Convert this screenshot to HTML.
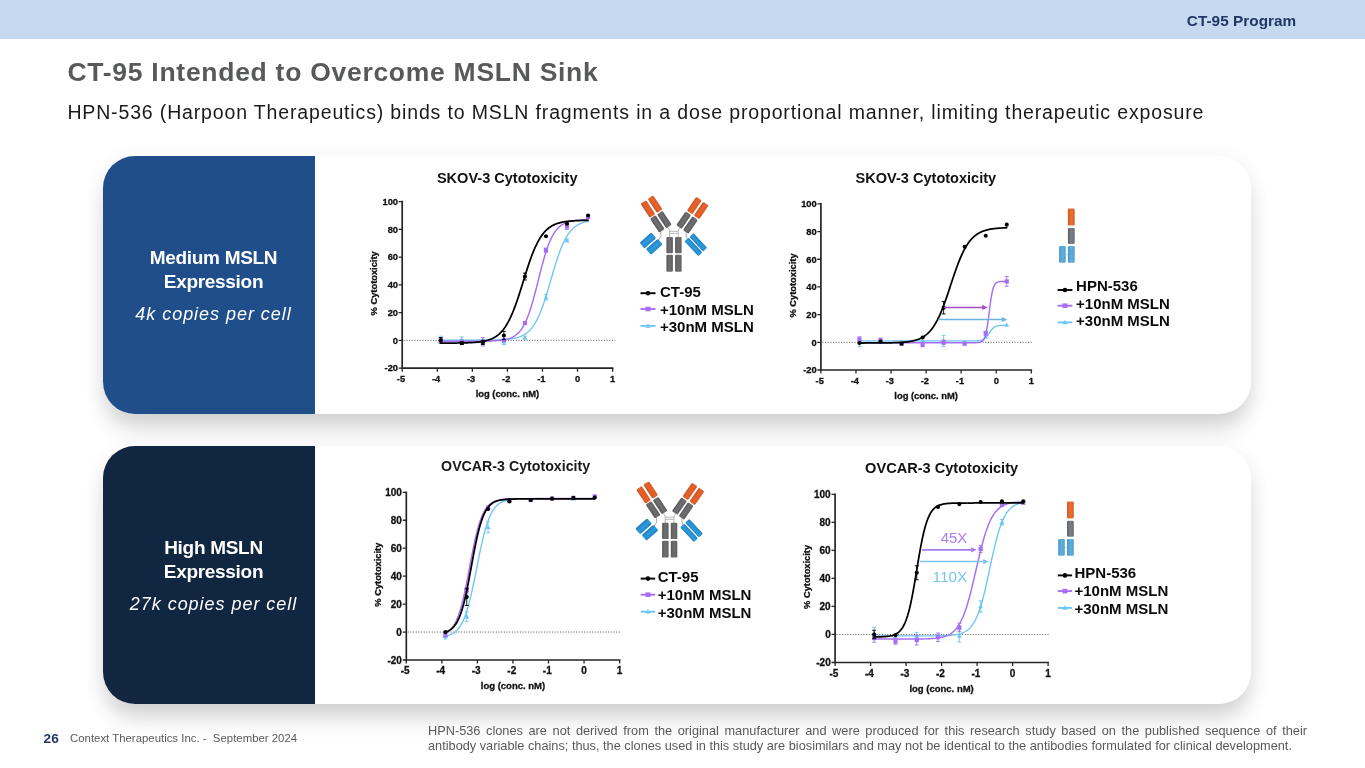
<!DOCTYPE html>
<html lang="en">
<head>
<meta charset="utf-8">
<title>CT-95 Intended to Overcome MSLN Sink</title>
<style>
html,body{margin:0;padding:0;}
body{width:1365px;height:768px;position:relative;overflow:hidden;background:#fff;font-family:"Liberation Sans",Arial,sans-serif;}
.t{position:absolute;white-space:nowrap;line-height:1;transform-origin:0 50%;display:block;}
.c{transform-origin:50% 50%;}
#topbar{position:absolute;left:0;top:0;width:1365px;height:38.6px;background:#c5d9f1;}
.card{position:absolute;left:103px;width:1148px;height:258px;border-radius:32px;background:#fff;box-shadow:0 17px 22px -3px rgba(0,0,0,0.16),0 2px 18px 6px rgba(0,0,0,0.03);overflow:hidden;}
.side{position:absolute;left:0;top:0;width:212px;height:258px;}
#card1{top:156px;} #card2{top:446px;}
#card1 .side{background:#204e8a;} #card2 .side{background:#112641;}
.pt{position:absolute;left:0;width:221px;text-align:center;color:#fff;white-space:nowrap;line-height:1;}
.pt span{display:inline-block;}
.b{font-weight:bold;font-size:19px;letter-spacing:-0.3px;}
.i{font-style:italic;font-size:18px;letter-spacing:0.96px;}
#foot{position:absolute;left:428px;top:722.6px;width:879px;font-size:12.75px;line-height:15.2px;color:#595959;text-align:justify;}
</style>
</head>
<body>
<div id="topbar"></div>
<div class="t" id="prog" style="left:1186.8px;top:13.4px;font-size:15.3px;font-weight:bold;color:#1f3864;letter-spacing:0.05px;">CT-95 Program</div>
<div class="t" id="title" style="left:67.5px;top:58.9px;font-size:26.5px;font-weight:bold;color:#58595b;letter-spacing:0.72px;">CT-95 Intended to Overcome MSLN Sink</div>
<div class="t" id="sub" style="left:67.4px;top:102.5px;font-size:19.5px;color:#1a1a1a;letter-spacing:0.85px;">HPN-536 (Harpoon Therapeutics) binds to MSLN fragments in a dose proportional manner, limiting therapeutic exposure</div>

<div class="card" id="card1">
  <div class="side">
    <div class="pt b" style="top:92.1px"><span id="p1a">Medium MSLN</span></div>
    <div class="pt b" style="top:116.1px"><span id="p1b">Expression</span></div>
    <div class="pt i" style="top:149.4px"><span id="p1c">4k copies per cell</span></div>
  </div>
</div>
<div class="card" id="card2">
  <div class="side">
    <div class="pt b" style="top:92.1px"><span id="p2a">High MSLN</span></div>
    <div class="pt b" style="top:116.1px"><span id="p2b">Expression</span></div>
    <div class="pt i" style="top:149.4px"><span id="p2c">27k copies per cell</span></div>
  </div>
</div>

<svg width="1365" height="768" viewBox="0 0 1365 768" style="position:absolute;left:0;top:0">
<style>.k{stroke:#111;stroke-width:0.3px;}</style><defs>
<linearGradient id="gOr" x1="0" x2="1" y1="0" y2="0"><stop offset="0" stop-color="#cf5422"/><stop offset="0.5" stop-color="#e8632b"/><stop offset="1" stop-color="#d65824"/></linearGradient>
<linearGradient id="gGr" x1="0" x2="1" y1="0" y2="0"><stop offset="0" stop-color="#59595c"/><stop offset="0.5" stop-color="#707073"/><stop offset="1" stop-color="#5e5e61"/></linearGradient>
<linearGradient id="gBl" x1="0" x2="0" y1="0" y2="1"><stop offset="0" stop-color="#1c7fc0"/><stop offset="0.5" stop-color="#2f9bdc"/><stop offset="1" stop-color="#1f86c8"/></linearGradient>
<linearGradient id="gOr2" x1="0" x2="1" y1="0" y2="0"><stop offset="0" stop-color="#d25a22"/><stop offset="0.5" stop-color="#ea7030"/><stop offset="1" stop-color="#d86026"/></linearGradient>
<linearGradient id="gGr2" x1="0" x2="1" y1="0" y2="0"><stop offset="0" stop-color="#5c646b"/><stop offset="0.5" stop-color="#7a8085"/><stop offset="1" stop-color="#666c72"/></linearGradient>
<linearGradient id="gBl2" x1="0" x2="1" y1="0" y2="0"><stop offset="0" stop-color="#4596cc"/><stop offset="0.5" stop-color="#62aede"/><stop offset="1" stop-color="#4e9fd2"/></linearGradient>
</defs>
<g font-family="'Liberation Sans', Arial, sans-serif" font-weight="bold" fill="#111">
<text x="436.9" y="182.8" font-size="14.45" textLength="140.6" lengthAdjust="spacingAndGlyphs" fill="#111">SKOV-3 Cytotoxicity</text>
<line x1="403.7" y1="340.35" x2="615.3" y2="340.35" stroke="#505050" stroke-width="1" stroke-dasharray="1 1.67"/>
<polyline points="440.77,340.07 441.69,340.07 442.61,340.07 443.53,340.07 444.46,340.07 445.38,340.07 446.3,340.07 447.22,340.07 448.14,340.07 449.06,340.07 449.98,340.07 450.9,340.07 451.82,340.07 452.74,340.07 453.66,340.07 454.58,340.07 455.5,340.07 456.42,340.07 457.34,340.07 458.26,340.07 459.18,340.07 460.1,340.07 461.02,340.07 461.94,340.07 462.87,340.07 463.79,340.07 464.71,340.07 465.63,340.07 466.55,340.07 467.47,340.06 468.39,340.06 469.31,340.06 470.23,340.06 471.15,340.06 472.07,340.06 472.99,340.06 473.91,340.06 474.83,340.05 475.75,340.05 476.67,340.05 477.59,340.05 478.51,340.04 479.43,340.04 480.35,340.04 481.28,340.03 482.2,340.03 483.12,340.02 484.04,340.02 484.96,340.01 485.88,340 486.8,340 487.72,339.99 488.64,339.98 489.56,339.97 490.48,339.96 491.4,339.94 492.32,339.93 493.24,339.91 494.16,339.89 495.08,339.88 496,339.85 496.92,339.83 497.84,339.8 498.76,339.77 499.69,339.74 500.61,339.7 501.53,339.66 502.45,339.61 503.37,339.56 504.29,339.51 505.21,339.44 506.13,339.37 507.05,339.3 507.97,339.21 508.89,339.11 509.81,339.01 510.73,338.89 511.65,338.76 512.57,338.62 513.49,338.45 514.41,338.28 515.33,338.08 516.25,337.86 517.17,337.62 518.1,337.35 519.02,337.06 519.94,336.73 520.86,336.37 521.78,335.97 522.7,335.53 523.62,335.04 524.54,334.51 525.46,333.92 526.38,333.27 527.3,332.56 528.22,331.78 529.14,330.92 530.06,329.99 530.98,328.97 531.9,327.85 532.82,326.64 533.74,325.33 534.66,323.9 535.58,322.36 536.51,320.7 537.43,318.92 538.35,317.01 539.27,314.98 540.19,312.81 541.11,310.52 542.03,308.09 542.95,305.55 543.87,302.89 544.79,300.11 545.71,297.24 546.63,294.28 547.55,291.24 548.47,288.14 549.39,285 550.31,281.83 551.23,278.64 552.15,275.46 553.07,272.31 553.99,269.2 554.92,266.15 555.84,263.17 556.76,260.27 557.68,257.47 558.6,254.78 559.52,252.21 560.44,249.76 561.36,247.43 562.28,245.24 563.2,243.17 564.12,241.23 565.04,239.42 565.96,237.73 566.88,236.17 567.8,234.71 568.72,233.37 569.64,232.14 570.56,231 571.48,229.96 572.4,229 573.33,228.13 574.25,227.33 575.17,226.6 576.09,225.94 577.01,225.34 577.93,224.79 578.85,224.29 579.77,223.84 580.69,223.43 581.61,223.06 582.53,222.73 583.45,222.43 584.37,222.15 585.29,221.9 586.21,221.68 587.13,221.48 588.05,221.3" fill="none" stroke="#6cc5f2" stroke-width="1.35" stroke-linejoin="round" stroke-linecap="round"/>
<path d="M440.77 336.19V341.74M438.77 336.19H442.77M438.77 341.74H442.77" stroke="#6cc5f2" stroke-width="0.9" fill="none"/>
<path d="M440.77 336.36L443.17 340.76L438.37 340.76Z" fill="#6cc5f2"/>
<path d="M461.81 336.88V342.43M459.81 336.88H463.81M459.81 342.43H463.81" stroke="#6cc5f2" stroke-width="0.9" fill="none"/>
<path d="M461.81 337.06L464.21 341.46L459.41 341.46Z" fill="#6cc5f2"/>
<path d="M482.85 337.75L485.25 342.15L480.45 342.15Z" fill="#6cc5f2"/>
<path d="M503.89 338.96V344.51M501.89 338.96H505.89M501.89 344.51H505.89" stroke="#6cc5f2" stroke-width="0.9" fill="none"/>
<path d="M503.89 339.14L506.29 343.54L501.49 343.54Z" fill="#6cc5f2"/>
<path d="M524.93 336.19V338.96M522.93 336.19H526.93M522.93 338.96H526.93" stroke="#6cc5f2" stroke-width="0.9" fill="none"/>
<path d="M524.93 334.98L527.33 339.38L522.53 339.38Z" fill="#6cc5f2"/>
<path d="M545.97 294.56V300.11M543.97 294.56H547.97M543.97 300.11H547.97" stroke="#6cc5f2" stroke-width="0.9" fill="none"/>
<path d="M545.97 294.74L548.37 299.14L543.57 299.14Z" fill="#6cc5f2"/>
<path d="M567.01 239.06V241.84M565.01 239.06H569.01M565.01 241.84H569.01" stroke="#6cc5f2" stroke-width="0.9" fill="none"/>
<path d="M567.01 237.85L569.41 242.25L564.61 242.25Z" fill="#6cc5f2"/>
<path d="M588.05 214.26L590.45 218.66L585.65 218.66Z" fill="#6cc5f2"/>
<polyline points="440.77,341.18 441.69,341.18 442.61,341.18 443.53,341.18 444.46,341.18 445.38,341.18 446.3,341.18 447.22,341.18 448.14,341.18 449.06,341.18 449.98,341.18 450.9,341.18 451.82,341.18 452.74,341.18 453.66,341.18 454.58,341.18 455.5,341.18 456.42,341.18 457.34,341.18 458.26,341.18 459.18,341.18 460.1,341.18 461.02,341.18 461.94,341.18 462.87,341.18 463.79,341.18 464.71,341.17 465.63,341.17 466.55,341.17 467.47,341.17 468.39,341.17 469.31,341.17 470.23,341.17 471.15,341.16 472.07,341.16 472.99,341.16 473.91,341.16 474.83,341.15 475.75,341.15 476.67,341.15 477.59,341.14 478.51,341.13 479.43,341.13 480.35,341.12 481.28,341.11 482.2,341.11 483.12,341.1 484.04,341.08 484.96,341.07 485.88,341.06 486.8,341.04 487.72,341.02 488.64,341 489.56,340.98 490.48,340.95 491.4,340.92 492.32,340.89 493.24,340.85 494.16,340.81 495.08,340.76 496,340.71 496.92,340.65 497.84,340.58 498.76,340.51 499.69,340.42 500.61,340.32 501.53,340.21 502.45,340.09 503.37,339.95 504.29,339.79 505.21,339.62 506.13,339.42 507.05,339.2 507.97,338.95 508.89,338.67 509.81,338.35 510.73,338 511.65,337.6 512.57,337.15 513.49,336.66 514.41,336.1 515.33,335.48 516.25,334.78 517.17,334.01 518.1,333.15 519.02,332.19 519.94,331.13 520.86,329.96 521.78,328.66 522.7,327.24 523.62,325.68 524.54,323.97 525.46,322.1 526.38,320.08 527.3,317.88 528.22,315.52 529.14,312.99 530.06,310.29 530.98,307.42 531.9,304.4 532.82,301.22 533.74,297.92 534.66,294.49 535.58,290.97 536.51,287.38 537.43,283.73 538.35,280.06 539.27,276.39 540.19,272.75 541.11,269.17 542.03,265.67 542.95,262.26 543.87,258.98 544.79,255.84 545.71,252.84 546.63,250 547.55,247.33 548.47,244.83 549.39,242.5 550.31,240.34 551.23,238.35 552.15,236.52 553.07,234.83 553.99,233.3 554.92,231.9 555.84,230.63 556.76,229.48 557.68,228.44 558.6,227.5 559.52,226.66 560.44,225.9 561.36,225.22 562.28,224.61 563.2,224.06 564.12,223.58 565.04,223.14 565.96,222.75 566.88,222.41 567.8,222.1 568.72,221.82 569.64,221.58 570.56,221.36 571.48,221.17 572.4,220.99 573.33,220.84 574.25,220.71 575.17,220.58 576.09,220.48 577.01,220.38 577.93,220.3 578.85,220.22 579.77,220.16 580.69,220.1 581.61,220.05 582.53,220 583.45,219.96 584.37,219.92 585.29,219.89 586.21,219.86 587.13,219.84 588.05,219.81" fill="none" stroke="#a56ef5" stroke-width="1.45" stroke-linejoin="round" stroke-linecap="round"/>
<path d="M440.77 338.27V342.43M438.77 338.27H442.77M438.77 342.43H442.77" stroke="#a56ef5" stroke-width="0.9" fill="none"/>
<rect x="438.67" y="338.25" width="4.2" height="4.2" fill="#a56ef5"/>
<rect x="459.71" y="339.64" width="4.2" height="4.2" fill="#a56ef5"/>
<path d="M482.85 337.57V345.9M480.85 337.57H484.85M480.85 345.9H484.85" stroke="#a56ef5" stroke-width="0.9" fill="none"/>
<rect x="480.75" y="339.64" width="4.2" height="4.2" fill="#a56ef5"/>
<rect x="501.79" y="338.25" width="4.2" height="4.2" fill="#a56ef5"/>
<rect x="522.83" y="320.91" width="4.2" height="4.2" fill="#a56ef5"/>
<path d="M545.97 248.08V252.24M543.97 248.08H547.97M543.97 252.24H547.97" stroke="#a56ef5" stroke-width="0.9" fill="none"/>
<rect x="543.87" y="248.06" width="4.2" height="4.2" fill="#a56ef5"/>
<path d="M567.01 223.8V229.35M565.01 223.8H569.01M565.01 229.35H569.01" stroke="#a56ef5" stroke-width="0.9" fill="none"/>
<rect x="564.91" y="224.47" width="4.2" height="4.2" fill="#a56ef5"/>
<rect x="585.95" y="214.76" width="4.2" height="4.2" fill="#a56ef5"/>
<polyline points="440.77,343.1 441.69,343.1 442.61,343.1 443.53,343.1 444.46,343.09 445.38,343.09 446.3,343.09 447.22,343.08 448.14,343.08 449.06,343.07 449.98,343.07 450.9,343.06 451.82,343.06 452.74,343.05 453.66,343.04 454.58,343.03 455.5,343.02 456.42,343.01 457.34,343 458.26,342.99 459.18,342.98 460.1,342.96 461.02,342.95 461.94,342.93 462.87,342.91 463.79,342.89 464.71,342.86 465.63,342.83 466.55,342.81 467.47,342.77 468.39,342.74 469.31,342.7 470.23,342.66 471.15,342.61 472.07,342.56 472.99,342.5 473.91,342.43 474.83,342.36 475.75,342.29 476.67,342.2 477.59,342.11 478.51,342.01 479.43,341.9 480.35,341.77 481.28,341.64 482.2,341.49 483.12,341.33 484.04,341.15 484.96,340.95 485.88,340.73 486.8,340.49 487.72,340.23 488.64,339.95 489.56,339.63 490.48,339.29 491.4,338.91 492.32,338.5 493.24,338.05 494.16,337.56 495.08,337.02 496,336.44 496.92,335.8 497.84,335.1 498.76,334.35 499.69,333.52 500.61,332.63 501.53,331.67 502.45,330.62 503.37,329.49 504.29,328.27 505.21,326.96 506.13,325.56 507.05,324.05 507.97,322.44 508.89,320.72 509.81,318.9 510.73,316.96 511.65,314.91 512.57,312.76 513.49,310.49 514.41,308.12 515.33,305.65 516.25,303.08 517.17,300.43 518.1,297.7 519.02,294.89 519.94,292.03 520.86,289.12 521.78,286.18 522.7,283.22 523.62,280.24 524.54,277.28 525.46,274.33 526.38,271.42 527.3,268.56 528.22,265.75 529.14,263.02 530.06,260.36 530.98,257.79 531.9,255.31 532.82,252.94 533.74,250.67 534.66,248.51 535.58,246.45 536.51,244.51 537.43,242.68 538.35,240.96 539.27,239.34 540.19,237.83 541.11,236.42 542.03,235.1 542.95,233.88 543.87,232.75 544.79,231.7 545.71,230.73 546.63,229.84 547.55,229.01 548.47,228.25 549.39,227.55 550.31,226.91 551.23,226.32 552.15,225.78 553.07,225.29 553.99,224.84 554.92,224.42 555.84,224.05 556.76,223.7 557.68,223.39 558.6,223.1 559.52,222.84 560.44,222.6 561.36,222.38 562.28,222.18 563.2,222 564.12,221.84 565.04,221.69 565.96,221.55 566.88,221.43 567.8,221.31 568.72,221.21 569.64,221.12 570.56,221.03 571.48,220.96 572.4,220.89 573.33,220.82 574.25,220.76 575.17,220.71 576.09,220.66 577.01,220.62 577.93,220.58 578.85,220.55 579.77,220.51 580.69,220.48 581.61,220.46 582.53,220.43 583.45,220.41 584.37,220.39 585.29,220.37 586.21,220.36 587.13,220.34 588.05,220.33" fill="none" stroke="#000000" stroke-width="1.75" stroke-linejoin="round" stroke-linecap="round"/>
<path d="M440.77 337.58V343.12M438.77 337.58H442.77M438.77 343.12H442.77" stroke="#000000" stroke-width="0.9" fill="none"/>
<circle cx="440.77" cy="340.35" r="2.05" fill="#000000"/>
<path d="M461.81 341.74V344.51M459.81 341.74H463.81M459.81 344.51H463.81" stroke="#000000" stroke-width="0.9" fill="none"/>
<circle cx="461.81" cy="343.12" r="2.05" fill="#000000"/>
<path d="M482.85 340.35V344.51M480.85 340.35H484.85M480.85 344.51H484.85" stroke="#000000" stroke-width="0.9" fill="none"/>
<circle cx="482.85" cy="342.43" r="2.05" fill="#000000"/>
<path d="M503.89 331.33V339.66M501.89 331.33H505.89M501.89 339.66H505.89" stroke="#000000" stroke-width="0.9" fill="none"/>
<circle cx="503.89" cy="335.49" r="2.05" fill="#000000"/>
<path d="M524.93 273.06V279.99M522.93 273.06H526.93M522.93 279.99H526.93" stroke="#000000" stroke-width="0.9" fill="none"/>
<circle cx="524.93" cy="276.52" r="2.05" fill="#000000"/>
<circle cx="545.97" cy="236.29" r="2.05" fill="#000000"/>
<circle cx="567.01" cy="223.8" r="2.05" fill="#000000"/>
<circle cx="588.05" cy="215.47" r="2.05" fill="#000000"/>
<path d="M402.2 201.6V368.1H612.6" fill="none" stroke="#262626" stroke-width="1.7" stroke-linecap="square"/>
<path d="M402.2 368.1h-3.6M402.2 340.35h-3.6M402.2 312.6h-3.6M402.2 284.85h-3.6M402.2 257.1h-3.6M402.2 229.35h-3.6M402.2 201.6h-3.6M402.2 368.1v3.6M437.27 368.1v3.6M472.33 368.1v3.6M507.4 368.1v3.6M542.47 368.1v3.6M577.53 368.1v3.6M612.6 368.1v3.6" stroke="#262626" stroke-width="1.3" fill="none"/>
<text class="k" x="398" y="371.45" font-size="9.3" text-anchor="end">-20</text>
<text class="k" x="398" y="343.7" font-size="9.3" text-anchor="end">0</text>
<text class="k" x="398" y="315.95" font-size="9.3" text-anchor="end">20</text>
<text class="k" x="398" y="288.2" font-size="9.3" text-anchor="end">40</text>
<text class="k" x="398" y="260.45" font-size="9.3" text-anchor="end">60</text>
<text class="k" x="398" y="232.7" font-size="9.3" text-anchor="end">80</text>
<text class="k" x="398" y="204.95" font-size="9.3" text-anchor="end">100</text>
<text class="k" x="401" y="381.9" font-size="9.3" text-anchor="middle">-5</text>
<text class="k" x="436.07" y="381.9" font-size="9.3" text-anchor="middle">-4</text>
<text class="k" x="471.13" y="381.9" font-size="9.3" text-anchor="middle">-3</text>
<text class="k" x="506.2" y="381.9" font-size="9.3" text-anchor="middle">-2</text>
<text class="k" x="541.27" y="381.9" font-size="9.3" text-anchor="middle">-1</text>
<text class="k" x="577.53" y="381.9" font-size="9.3" text-anchor="middle">0</text>
<text class="k" x="612.6" y="381.9" font-size="9.3" text-anchor="middle">1</text>
<text class="k" x="507.4" y="396.9" font-size="9.4" text-anchor="middle">log (conc. nM)</text>
<text class="k" transform="translate(377 283.35) rotate(-90)" font-size="9.3" text-anchor="middle">% Cytotoxicity</text>
</g>
<g font-family="'Liberation Sans', Arial, sans-serif" font-weight="bold" fill="#111">
<text x="855.6" y="182.8" font-size="14.45" textLength="140.6" lengthAdjust="spacingAndGlyphs" fill="#111">SKOV-3 Cytotoxicity</text>
<line x1="822.4" y1="342.32" x2="1031.8" y2="342.32" stroke="#505050" stroke-width="1" stroke-dasharray="1 1.67"/>
<polyline points="859.47,340.93 860.39,340.93 861.31,340.93 862.23,340.93 863.16,340.93 864.08,340.93 865,340.93 865.92,340.93 866.84,340.93 867.76,340.93 868.68,340.93 869.6,340.93 870.52,340.93 871.44,340.93 872.36,340.93 873.28,340.93 874.2,340.93 875.12,340.93 876.04,340.93 876.96,340.93 877.88,340.93 878.8,340.93 879.72,340.93 880.64,340.93 881.57,340.93 882.49,340.93 883.41,340.93 884.33,340.93 885.25,340.93 886.17,340.93 887.09,340.93 888.01,340.93 888.93,340.93 889.85,340.93 890.77,340.93 891.69,340.93 892.61,340.93 893.53,340.93 894.45,340.93 895.37,340.93 896.29,340.93 897.21,340.93 898.13,340.93 899.05,340.93 899.98,340.93 900.9,340.93 901.82,340.93 902.74,340.93 903.66,340.93 904.58,340.93 905.5,340.93 906.42,340.93 907.34,340.93 908.26,340.93 909.18,340.93 910.1,340.93 911.02,340.93 911.94,340.93 912.86,340.93 913.78,340.93 914.7,340.93 915.62,340.93 916.54,340.93 917.46,340.93 918.39,340.93 919.31,340.93 920.23,340.93 921.15,340.93 922.07,340.93 922.99,340.93 923.91,340.93 924.83,340.93 925.75,340.93 926.67,340.93 927.59,340.93 928.51,340.93 929.43,340.93 930.35,340.93 931.27,340.93 932.19,340.93 933.11,340.93 934.03,340.93 934.95,340.93 935.87,340.93 936.8,340.93 937.72,340.93 938.64,340.93 939.56,340.93 940.48,340.93 941.4,340.93 942.32,340.93 943.24,340.93 944.16,340.93 945.08,340.93 946,340.93 946.92,340.93 947.84,340.93 948.76,340.93 949.68,340.93 950.6,340.93 951.52,340.93 952.44,340.93 953.36,340.93 954.28,340.93 955.21,340.93 956.13,340.93 957.05,340.93 957.97,340.93 958.89,340.93 959.81,340.93 960.73,340.93 961.65,340.93 962.57,340.93 963.49,340.93 964.41,340.93 965.33,340.93 966.25,340.93 967.17,340.93 968.09,340.93 969.01,340.93 969.93,340.92 970.85,340.92 971.77,340.92 972.69,340.91 973.62,340.9 974.54,340.88 975.46,340.86 976.38,340.83 977.3,340.79 978.22,340.73 979.14,340.64 980.06,340.52 980.98,340.35 981.9,340.1 982.82,339.77 983.74,339.31 984.66,338.71 985.58,337.92 986.5,336.94 987.42,335.77 988.34,334.45 989.26,333.04 990.18,331.64 991.1,330.33 992.03,329.18 992.95,328.22 993.87,327.45 994.79,326.86 995.71,326.42 996.63,326.09 997.55,325.86 998.47,325.69 999.39,325.57 1000.31,325.49 1001.23,325.43 1002.15,325.39 1003.07,325.36 1003.99,325.34 1004.91,325.32 1005.83,325.31 1006.75,325.31" fill="none" stroke="#6cc5f2" stroke-width="1.35" stroke-linejoin="round" stroke-linecap="round"/>
<path d="M859.47 338.16V346.47M857.47 338.16H861.47M857.47 346.47H861.47" stroke="#6cc5f2" stroke-width="0.9" fill="none"/>
<path d="M859.47 339.72L861.87 344.12L857.07 344.12Z" fill="#6cc5f2"/>
<path d="M880.51 338.33L882.91 342.73L878.11 342.73Z" fill="#6cc5f2"/>
<path d="M901.55 339.72L903.95 344.12L899.15 344.12Z" fill="#6cc5f2"/>
<path d="M922.59 338.33L924.99 342.73L920.19 342.73Z" fill="#6cc5f2"/>
<path d="M943.63 335.4V346.47M941.63 335.4H945.63M941.63 346.47H945.63" stroke="#6cc5f2" stroke-width="0.9" fill="none"/>
<path d="M943.63 338.33L946.03 342.73L941.23 342.73Z" fill="#6cc5f2"/>
<path d="M964.67 339.72L967.07 344.12L962.27 344.12Z" fill="#6cc5f2"/>
<path d="M985.71 334.18L988.11 338.58L983.31 338.58Z" fill="#6cc5f2"/>
<path d="M1006.75 322.41L1009.15 326.81L1004.35 326.81Z" fill="#6cc5f2"/>
<polyline points="859.47,342.73 860.39,342.73 861.31,342.73 862.23,342.73 863.16,342.73 864.08,342.73 865,342.73 865.92,342.73 866.84,342.73 867.76,342.73 868.68,342.73 869.6,342.73 870.52,342.73 871.44,342.73 872.36,342.73 873.28,342.73 874.2,342.73 875.12,342.73 876.04,342.73 876.96,342.73 877.88,342.73 878.8,342.73 879.72,342.73 880.64,342.73 881.57,342.73 882.49,342.73 883.41,342.73 884.33,342.73 885.25,342.73 886.17,342.73 887.09,342.73 888.01,342.73 888.93,342.73 889.85,342.73 890.77,342.73 891.69,342.73 892.61,342.73 893.53,342.73 894.45,342.73 895.37,342.73 896.29,342.73 897.21,342.73 898.13,342.73 899.05,342.73 899.98,342.73 900.9,342.73 901.82,342.73 902.74,342.73 903.66,342.73 904.58,342.73 905.5,342.73 906.42,342.73 907.34,342.73 908.26,342.73 909.18,342.73 910.1,342.73 911.02,342.73 911.94,342.73 912.86,342.73 913.78,342.73 914.7,342.73 915.62,342.73 916.54,342.73 917.46,342.73 918.39,342.73 919.31,342.73 920.23,342.73 921.15,342.73 922.07,342.73 922.99,342.73 923.91,342.73 924.83,342.73 925.75,342.73 926.67,342.73 927.59,342.73 928.51,342.73 929.43,342.73 930.35,342.73 931.27,342.73 932.19,342.73 933.11,342.73 934.03,342.73 934.95,342.73 935.87,342.73 936.8,342.73 937.72,342.73 938.64,342.73 939.56,342.73 940.48,342.73 941.4,342.73 942.32,342.73 943.24,342.73 944.16,342.73 945.08,342.73 946,342.73 946.92,342.73 947.84,342.73 948.76,342.73 949.68,342.73 950.6,342.73 951.52,342.73 952.44,342.73 953.36,342.73 954.28,342.73 955.21,342.73 956.13,342.73 957.05,342.73 957.97,342.73 958.89,342.73 959.81,342.73 960.73,342.73 961.65,342.73 962.57,342.73 963.49,342.73 964.41,342.73 965.33,342.73 966.25,342.73 967.17,342.73 968.09,342.73 969.01,342.73 969.93,342.73 970.85,342.73 971.77,342.73 972.69,342.72 973.62,342.72 974.54,342.7 975.46,342.69 976.38,342.66 977.3,342.62 978.22,342.54 979.14,342.43 980.06,342.24 980.98,341.93 981.9,341.45 982.82,340.68 983.74,339.47 984.66,337.61 985.58,334.83 986.5,330.87 987.42,325.56 988.34,319.01 989.26,311.72 990.18,304.47 991.1,298.02 992.03,292.84 992.95,289 993.87,286.33 994.79,284.54 995.71,283.38 996.63,282.64 997.55,282.18 998.47,281.89 999.39,281.71 1000.31,281.59 1001.23,281.52 1002.15,281.48 1003.07,281.46 1003.99,281.44 1004.91,281.43 1005.83,281.42 1006.75,281.42" fill="none" stroke="#a56ef5" stroke-width="1.45" stroke-linejoin="round" stroke-linecap="round"/>
<path d="M859.47 336.78V342.32M857.47 336.78H861.47M857.47 342.32H861.47" stroke="#a56ef5" stroke-width="0.9" fill="none"/>
<rect x="857.37" y="337.45" width="4.2" height="4.2" fill="#a56ef5"/>
<path d="M880.51 338.16V342.32M878.51 338.16H882.51M878.51 342.32H882.51" stroke="#a56ef5" stroke-width="0.9" fill="none"/>
<rect x="878.41" y="338.14" width="4.2" height="4.2" fill="#a56ef5"/>
<rect x="899.45" y="341.6" width="4.2" height="4.2" fill="#a56ef5"/>
<rect x="920.49" y="342.98" width="4.2" height="4.2" fill="#a56ef5"/>
<path d="M943.63 340.24V344.39M941.63 340.24H945.63M941.63 344.39H945.63" stroke="#a56ef5" stroke-width="0.9" fill="none"/>
<rect x="941.53" y="340.22" width="4.2" height="4.2" fill="#a56ef5"/>
<rect x="962.57" y="341.6" width="4.2" height="4.2" fill="#a56ef5"/>
<path d="M985.71 331.24V335.4M983.71 331.24H987.71M983.71 335.4H987.71" stroke="#a56ef5" stroke-width="0.9" fill="none"/>
<rect x="983.61" y="331.22" width="4.2" height="4.2" fill="#a56ef5"/>
<path d="M1006.75 276.57V286.26M1004.75 276.57H1008.75M1004.75 286.26H1008.75" stroke="#a56ef5" stroke-width="0.9" fill="none"/>
<rect x="1004.65" y="279.31" width="4.2" height="4.2" fill="#a56ef5"/>
<polyline points="859.47,343 860.39,343 861.31,343 862.23,343 863.16,343 864.08,343 865,342.99 865.92,342.99 866.84,342.99 867.76,342.99 868.68,342.99 869.6,342.99 870.52,342.98 871.44,342.98 872.36,342.98 873.28,342.97 874.2,342.97 875.12,342.97 876.04,342.96 876.96,342.96 877.88,342.95 878.8,342.95 879.72,342.94 880.64,342.93 881.57,342.93 882.49,342.92 883.41,342.91 884.33,342.9 885.25,342.89 886.17,342.88 887.09,342.86 888.01,342.85 888.93,342.83 889.85,342.81 890.77,342.79 891.69,342.77 892.61,342.75 893.53,342.72 894.45,342.69 895.37,342.66 896.29,342.63 897.21,342.59 898.13,342.55 899.05,342.5 899.98,342.45 900.9,342.39 901.82,342.33 902.74,342.26 903.66,342.19 904.58,342.1 905.5,342.01 906.42,341.91 907.34,341.8 908.26,341.68 909.18,341.55 910.1,341.4 911.02,341.24 911.94,341.06 912.86,340.87 913.78,340.65 914.7,340.42 915.62,340.16 916.54,339.88 917.46,339.57 918.39,339.24 919.31,338.87 920.23,338.46 921.15,338.02 922.07,337.54 922.99,337.01 923.91,336.44 924.83,335.81 925.75,335.13 926.67,334.39 927.59,333.59 928.51,332.72 929.43,331.78 930.35,330.76 931.27,329.66 932.19,328.47 933.11,327.2 934.03,325.83 934.95,324.37 935.87,322.81 936.8,321.14 937.72,319.38 938.64,317.51 939.56,315.53 940.48,313.45 941.4,311.28 942.32,309 943.24,306.64 944.16,304.18 945.08,301.65 946,299.05 946.92,296.39 947.84,293.67 948.76,290.92 949.68,288.14 950.6,285.35 951.52,282.56 952.44,279.78 953.36,277.03 954.28,274.31 955.21,271.64 956.13,269.03 957.05,266.49 957.97,264.03 958.89,261.66 959.81,259.37 960.73,257.19 961.65,255.1 962.57,253.12 963.49,251.24 964.41,249.46 965.33,247.79 966.25,246.22 967.17,244.74 968.09,243.37 969.01,242.09 969.93,240.89 970.85,239.78 971.77,238.76 972.69,237.81 973.62,236.93 974.54,236.12 975.46,235.37 976.38,234.69 977.3,234.06 978.22,233.48 979.14,232.95 980.06,232.46 980.98,232.02 981.9,231.61 982.82,231.24 983.74,230.9 984.66,230.58 985.58,230.3 986.5,230.04 987.42,229.81 988.34,229.59 989.26,229.4 990.18,229.22 991.1,229.06 992.03,228.91 992.95,228.77 993.87,228.65 994.79,228.54 995.71,228.44 996.63,228.35 997.55,228.26 998.47,228.19 999.39,228.12 1000.31,228.05 1001.23,228 1002.15,227.94 1003.07,227.9 1003.99,227.85 1004.91,227.82 1005.83,227.78 1006.75,227.75" fill="none" stroke="#000000" stroke-width="1.75" stroke-linejoin="round" stroke-linecap="round"/>
<circle cx="859.47" cy="343.01" r="2.05" fill="#000000"/>
<circle cx="880.51" cy="341.62" r="2.05" fill="#000000"/>
<circle cx="901.55" cy="343.7" r="2.05" fill="#000000"/>
<circle cx="922.59" cy="337.47" r="2.05" fill="#000000"/>
<path d="M943.63 301.48V313.94M941.63 301.48H945.63M941.63 313.94H945.63" stroke="#000000" stroke-width="0.9" fill="none"/>
<circle cx="943.63" cy="307.71" r="2.05" fill="#000000"/>
<circle cx="964.67" cy="246.81" r="2.05" fill="#000000"/>
<circle cx="985.71" cy="235.74" r="2.05" fill="#000000"/>
<circle cx="1006.75" cy="224.66" r="2.05" fill="#000000"/>
<line x1="943.8" y1="307.4" x2="984.7" y2="307.4" stroke="#a64fc4" stroke-width="1.5"/>
<path d="M987.7 307.4L982.2 304.8L982.2 310Z" fill="#a64fc4"/>
<line x1="938.3" y1="319.6" x2="1004.3" y2="319.6" stroke="#6db4e4" stroke-width="1.5"/>
<path d="M1007.3 319.6L1001.8 317L1001.8 322.2Z" fill="#6db4e4"/>
<path d="M820.9 203.9V370H1031.3" fill="none" stroke="#262626" stroke-width="1.7" stroke-linecap="square"/>
<path d="M820.9 370h-3.6M820.9 342.32h-3.6M820.9 314.63h-3.6M820.9 286.95h-3.6M820.9 259.27h-3.6M820.9 231.58h-3.6M820.9 203.9h-3.6M820.9 370v3.6M855.97 370v3.6M891.03 370v3.6M926.1 370v3.6M961.17 370v3.6M996.23 370v3.6M1031.3 370v3.6" stroke="#262626" stroke-width="1.3" fill="none"/>
<text class="k" x="816.7" y="373.35" font-size="9.3" text-anchor="end">-20</text>
<text class="k" x="816.7" y="345.66" font-size="9.3" text-anchor="end">0</text>
<text class="k" x="816.7" y="317.98" font-size="9.3" text-anchor="end">20</text>
<text class="k" x="816.7" y="290.3" font-size="9.3" text-anchor="end">40</text>
<text class="k" x="816.7" y="262.61" font-size="9.3" text-anchor="end">60</text>
<text class="k" x="816.7" y="234.93" font-size="9.3" text-anchor="end">80</text>
<text class="k" x="816.7" y="207.25" font-size="9.3" text-anchor="end">100</text>
<text class="k" x="819.7" y="383.7" font-size="9.3" text-anchor="middle">-5</text>
<text class="k" x="854.77" y="383.7" font-size="9.3" text-anchor="middle">-4</text>
<text class="k" x="889.83" y="383.7" font-size="9.3" text-anchor="middle">-3</text>
<text class="k" x="924.9" y="383.7" font-size="9.3" text-anchor="middle">-2</text>
<text class="k" x="959.97" y="383.7" font-size="9.3" text-anchor="middle">-1</text>
<text class="k" x="996.23" y="383.7" font-size="9.3" text-anchor="middle">0</text>
<text class="k" x="1031.3" y="383.7" font-size="9.3" text-anchor="middle">1</text>
<text class="k" x="926.1" y="398.8" font-size="9.4" text-anchor="middle">log (conc. nM)</text>
<text class="k" transform="translate(796.2 285.45) rotate(-90)" font-size="9.3" text-anchor="middle">% Cytotoxicity</text>
</g>
<g font-family="'Liberation Sans', Arial, sans-serif" font-weight="bold" fill="#111">
<text x="441.1" y="471.3" font-size="14.6" textLength="149" lengthAdjust="spacingAndGlyphs" fill="#1a1a1a">OVCAR-3 Cytotoxicity</text>
<line x1="407.8" y1="632.05" x2="620.1" y2="632.05" stroke="#505050" stroke-width="1" stroke-dasharray="1 1.67"/>
<polyline points="445.41,636.2 446.34,635.99 447.27,635.75 448.2,635.48 449.14,635.18 450.07,634.82 451,634.42 451.94,633.97 452.87,633.45 453.8,632.86 454.74,632.19 455.67,631.43 456.6,630.57 457.54,629.6 458.47,628.51 459.4,627.28 460.34,625.9 461.27,624.35 462.2,622.62 463.14,620.7 464.07,618.57 465,616.22 465.94,613.64 466.87,610.82 467.8,607.75 468.73,604.43 469.67,600.87 470.6,597.08 471.53,593.07 472.47,588.85 473.4,584.46 474.33,579.93 475.27,575.29 476.2,570.59 477.13,565.86 478.07,561.16 479,556.52 479.93,551.98 480.87,547.58 481.8,543.36 482.73,539.33 483.67,535.53 484.6,531.96 485.53,528.63 486.47,525.55 487.4,522.72 488.33,520.13 489.26,517.77 490.2,515.63 491.13,513.7 492.06,511.96 493,510.4 493.93,509.01 494.86,507.78 495.8,506.68 496.73,505.7 497.66,504.84 498.6,504.07 499.53,503.4 500.46,502.81 501.4,502.28 502.33,501.83 503.26,501.42 504.2,501.07 505.13,500.76 506.06,500.49 507,500.25 507.93,500.04 508.86,499.86 509.79,499.7 510.73,499.56 511.66,499.43 512.59,499.33 513.53,499.23 514.46,499.15 515.39,499.08 516.33,499.02 517.26,498.96 518.19,498.92 519.13,498.87 520.06,498.84 520.99,498.81 521.93,498.78 522.86,498.75 523.79,498.73 524.73,498.72 525.66,498.7 526.59,498.69 527.53,498.67 528.46,498.66 529.39,498.65 530.33,498.64 531.26,498.64 532.19,498.63 533.12,498.63 534.06,498.62 534.99,498.62 535.92,498.61 536.86,498.61 537.79,498.61 538.72,498.61 539.66,498.6 540.59,498.6 541.52,498.6 542.46,498.6 543.39,498.6 544.32,498.6 545.26,498.6 546.19,498.59 547.12,498.59 548.06,498.59 548.99,498.59 549.92,498.59 550.86,498.59 551.79,498.59 552.72,498.59 553.65,498.59 554.59,498.59 555.52,498.59 556.45,498.59 557.39,498.59 558.32,498.59 559.25,498.59 560.19,498.59 561.12,498.59 562.05,498.59 562.99,498.59 563.92,498.59 564.85,498.59 565.79,498.59 566.72,498.59 567.65,498.59 568.59,498.59 569.52,498.59 570.45,498.59 571.39,498.59 572.32,498.59 573.25,498.59 574.18,498.59 575.12,498.59 576.05,498.59 576.98,498.59 577.92,498.59 578.85,498.59 579.78,498.59 580.72,498.59 581.65,498.59 582.58,498.59 583.52,498.59 584.45,498.59 585.38,498.59 586.32,498.59 587.25,498.59 588.18,498.59 589.12,498.59 590.05,498.59 590.98,498.59 591.92,498.59 592.85,498.59 593.78,498.59 594.72,498.59" fill="none" stroke="#6cc5f2" stroke-width="1.35" stroke-linejoin="round" stroke-linecap="round"/>
<path d="M445.41 633.45V639.04M443.41 633.45H447.41M443.41 639.04H447.41" stroke="#6cc5f2" stroke-width="0.9" fill="none"/>
<path d="M445.41 633.64L447.81 638.04L443.01 638.04Z" fill="#6cc5f2"/>
<path d="M466.74 611.79V621.57M464.74 611.79H468.74M464.74 621.57H468.74" stroke="#6cc5f2" stroke-width="0.9" fill="none"/>
<path d="M466.74 614.08L469.13 618.48L464.34 618.48Z" fill="#6cc5f2"/>
<path d="M488.06 521.65V532.83M486.06 521.65H490.06M486.06 532.83H490.06" stroke="#6cc5f2" stroke-width="0.9" fill="none"/>
<path d="M488.06 524.64L490.46 529.04L485.67 529.04Z" fill="#6cc5f2"/>
<path d="M509.4 498.08L511.8 502.49L507 502.49Z" fill="#6cc5f2"/>
<path d="M530.73 497.39L533.12 501.79L528.33 501.79Z" fill="#6cc5f2"/>
<path d="M552.06 495.99L554.46 500.39L549.66 500.39Z" fill="#6cc5f2"/>
<path d="M573.38 495.99L575.78 500.39L570.99 500.39Z" fill="#6cc5f2"/>
<path d="M594.72 493.89L597.12 498.29L592.32 498.29Z" fill="#6cc5f2"/>
<polyline points="445.41,633.1 446.34,632.63 447.27,632.08 448.2,631.45 449.14,630.73 450.07,629.91 451,628.98 451.94,627.91 452.87,626.7 453.8,625.33 454.74,623.78 455.67,622.04 456.6,620.08 457.54,617.89 458.47,615.46 459.4,612.77 460.34,609.81 461.27,606.57 462.2,603.05 463.14,599.27 464.07,595.21 465,590.92 465.94,586.4 466.87,581.71 467.8,576.86 468.73,571.93 469.67,566.94 470.6,561.96 471.53,557.04 472.47,552.22 473.4,547.55 474.33,543.08 475.27,538.83 476.2,534.82 477.13,531.09 478.07,527.62 479,524.44 479.93,521.53 480.87,518.89 481.8,516.5 482.73,514.36 483.67,512.45 484.6,510.74 485.53,509.23 486.47,507.89 487.4,506.71 488.33,505.67 489.26,504.75 490.2,503.95 491.13,503.25 492.06,502.64 493,502.11 493.93,501.64 494.86,501.24 495.8,500.89 496.73,500.58 497.66,500.32 498.6,500.09 499.53,499.88 500.46,499.71 501.4,499.56 502.33,499.43 503.26,499.32 504.2,499.22 505.13,499.13 506.06,499.06 507,499 507.93,498.94 508.86,498.89 509.79,498.85 510.73,498.82 511.66,498.79 512.59,498.76 513.53,498.74 514.46,498.72 515.39,498.7 516.33,498.68 517.26,498.67 518.19,498.66 519.13,498.65 520.06,498.64 520.99,498.64 521.93,498.63 522.86,498.62 523.79,498.62 524.73,498.61 525.66,498.61 526.59,498.61 527.53,498.61 528.46,498.6 529.39,498.6 530.33,498.6 531.26,498.6 532.19,498.6 533.12,498.6 534.06,498.59 534.99,498.59 535.92,498.59 536.86,498.59 537.79,498.59 538.72,498.59 539.66,498.59 540.59,498.59 541.52,498.59 542.46,498.59 543.39,498.59 544.32,498.59 545.26,498.59 546.19,498.59 547.12,498.59 548.06,498.59 548.99,498.59 549.92,498.59 550.86,498.59 551.79,498.59 552.72,498.59 553.65,498.59 554.59,498.59 555.52,498.59 556.45,498.59 557.39,498.59 558.32,498.59 559.25,498.59 560.19,498.59 561.12,498.59 562.05,498.59 562.99,498.59 563.92,498.59 564.85,498.59 565.79,498.59 566.72,498.59 567.65,498.59 568.59,498.59 569.52,498.59 570.45,498.59 571.39,498.59 572.32,498.59 573.25,498.59 574.18,498.59 575.12,498.59 576.05,498.59 576.98,498.59 577.92,498.59 578.85,498.59 579.78,498.59 580.72,498.59 581.65,498.59 582.58,498.59 583.52,498.59 584.45,498.59 585.38,498.59 586.32,498.59 587.25,498.59 588.18,498.59 589.12,498.59 590.05,498.59 590.98,498.59 591.92,498.59 592.85,498.59 593.78,498.59 594.72,498.59" fill="none" stroke="#a56ef5" stroke-width="1.45" stroke-linejoin="round" stroke-linecap="round"/>
<path d="M445.41 632.75V636.94M443.41 632.75H447.41M443.41 636.94H447.41" stroke="#a56ef5" stroke-width="0.9" fill="none"/>
<rect x="443.31" y="632.75" width="4.2" height="4.2" fill="#a56ef5"/>
<path d="M466.74 587.33V592.92M464.74 587.33H468.74M464.74 592.92H468.74" stroke="#a56ef5" stroke-width="0.9" fill="none"/>
<rect x="464.63" y="588.02" width="4.2" height="4.2" fill="#a56ef5"/>
<rect x="485.96" y="505.57" width="4.2" height="4.2" fill="#a56ef5"/>
<rect x="507.3" y="498.58" width="4.2" height="4.2" fill="#a56ef5"/>
<rect x="528.62" y="497.89" width="4.2" height="4.2" fill="#a56ef5"/>
<rect x="549.96" y="496.49" width="4.2" height="4.2" fill="#a56ef5"/>
<rect x="571.28" y="495.79" width="4.2" height="4.2" fill="#a56ef5"/>
<rect x="592.62" y="494.39" width="4.2" height="4.2" fill="#a56ef5"/>
<polyline points="445.41,632.15 446.34,631.83 447.27,631.46 448.2,631.03 449.14,630.54 450.07,629.97 451,629.31 451.94,628.56 452.87,627.69 453.8,626.69 454.74,625.56 455.67,624.26 456.6,622.78 457.54,621.1 458.47,619.21 459.4,617.08 460.34,614.7 461.27,612.05 462.2,609.11 463.14,605.88 464.07,602.35 465,598.53 465.94,594.43 466.87,590.06 467.8,585.45 468.73,580.65 469.67,575.7 470.6,570.64 471.53,565.53 472.47,560.44 473.4,555.41 474.33,550.51 475.27,545.78 476.2,541.26 477.13,536.99 478.07,533 479,529.29 479.93,525.87 480.87,522.75 481.8,519.92 482.73,517.38 483.67,515.09 484.6,513.05 485.53,511.25 486.47,509.65 487.4,508.24 488.33,507.01 489.26,505.92 490.2,504.98 491.13,504.16 492.06,503.44 493,502.82 493.93,502.28 494.86,501.81 495.8,501.4 496.73,501.05 497.66,500.75 498.6,500.49 499.53,500.27 500.46,500.07 501.4,499.9 502.33,499.76 503.26,499.64 504.2,499.53 505.13,499.44 506.06,499.36 507,499.29 507.93,499.23 508.86,499.18 509.79,499.14 510.73,499.1 511.66,499.07 512.59,499.04 513.53,499.01 514.46,498.99 515.39,498.98 516.33,498.96 517.26,498.95 518.19,498.94 519.13,498.93 520.06,498.92 520.99,498.91 521.93,498.91 522.86,498.9 523.79,498.9 524.73,498.89 525.66,498.89 526.59,498.89 527.53,498.88 528.46,498.88 529.39,498.88 530.33,498.88 531.26,498.88 532.19,498.88 533.12,498.87 534.06,498.87 534.99,498.87 535.92,498.87 536.86,498.87 537.79,498.87 538.72,498.87 539.66,498.87 540.59,498.87 541.52,498.87 542.46,498.87 543.39,498.87 544.32,498.87 545.26,498.87 546.19,498.87 547.12,498.87 548.06,498.87 548.99,498.87 549.92,498.87 550.86,498.87 551.79,498.87 552.72,498.87 553.65,498.87 554.59,498.87 555.52,498.87 556.45,498.87 557.39,498.87 558.32,498.87 559.25,498.87 560.19,498.87 561.12,498.87 562.05,498.87 562.99,498.87 563.92,498.87 564.85,498.87 565.79,498.87 566.72,498.87 567.65,498.87 568.59,498.87 569.52,498.87 570.45,498.87 571.39,498.87 572.32,498.87 573.25,498.87 574.18,498.87 575.12,498.87 576.05,498.87 576.98,498.87 577.92,498.87 578.85,498.87 579.78,498.87 580.72,498.87 581.65,498.87 582.58,498.87 583.52,498.87 584.45,498.87 585.38,498.87 586.32,498.87 587.25,498.87 588.18,498.87 589.12,498.87 590.05,498.87 590.98,498.87 591.92,498.87 592.85,498.87 593.78,498.87 594.72,498.87" fill="none" stroke="#000000" stroke-width="1.75" stroke-linejoin="round" stroke-linecap="round"/>
<circle cx="445.41" cy="632.05" r="2.05" fill="#000000"/>
<path d="M466.74 588.73V605.5M464.74 588.73H468.74M464.74 605.5H468.74" stroke="#000000" stroke-width="0.9" fill="none"/>
<circle cx="466.74" cy="597.11" r="2.05" fill="#000000"/>
<circle cx="488.06" cy="509.07" r="2.05" fill="#000000"/>
<circle cx="509.4" cy="501.38" r="2.05" fill="#000000"/>
<circle cx="530.73" cy="499.99" r="2.05" fill="#000000"/>
<circle cx="552.06" cy="498.59" r="2.05" fill="#000000"/>
<circle cx="573.38" cy="497.89" r="2.05" fill="#000000"/>
<circle cx="594.72" cy="497.47" r="2.05" fill="#000000"/>
<path d="M406.3 492.3V660H619.6" fill="none" stroke="#262626" stroke-width="1.7" stroke-linecap="square"/>
<path d="M406.3 660h-3.6M406.3 632.05h-3.6M406.3 604.1h-3.6M406.3 576.15h-3.6M406.3 548.2h-3.6M406.3 520.25h-3.6M406.3 492.3h-3.6M406.3 660v3.6M441.85 660v3.6M477.4 660v3.6M512.95 660v3.6M548.5 660v3.6M584.05 660v3.6M619.6 660v3.6" stroke="#262626" stroke-width="1.3" fill="none"/>
<text class="k" x="401.9" y="663.6" font-size="10.0" text-anchor="end">-20</text>
<text class="k" x="401.9" y="635.65" font-size="10.0" text-anchor="end">0</text>
<text class="k" x="401.9" y="607.7" font-size="10.0" text-anchor="end">20</text>
<text class="k" x="401.9" y="579.75" font-size="10.0" text-anchor="end">40</text>
<text class="k" x="401.9" y="551.8" font-size="10.0" text-anchor="end">60</text>
<text class="k" x="401.9" y="523.85" font-size="10.0" text-anchor="end">80</text>
<text class="k" x="401.9" y="495.9" font-size="10.0" text-anchor="end">100</text>
<text class="k" x="405.1" y="674.4" font-size="10.0" text-anchor="middle">-5</text>
<text class="k" x="440.65" y="674.4" font-size="10.0" text-anchor="middle">-4</text>
<text class="k" x="476.2" y="674.4" font-size="10.0" text-anchor="middle">-3</text>
<text class="k" x="511.75" y="674.4" font-size="10.0" text-anchor="middle">-2</text>
<text class="k" x="547.3" y="674.4" font-size="10.0" text-anchor="middle">-1</text>
<text class="k" x="584.05" y="674.4" font-size="10.0" text-anchor="middle">0</text>
<text class="k" x="619.6" y="674.4" font-size="10.0" text-anchor="middle">1</text>
<text class="k" x="512.95" y="689.2" font-size="9.5" text-anchor="middle">log (conc. nM)</text>
<text class="k" transform="translate(381.2 574.65) rotate(-90)" font-size="9.3" text-anchor="middle">% Cytotoxicity</text>
</g>
<g font-family="'Liberation Sans', Arial, sans-serif" font-weight="bold" fill="#111">
<text x="865.1" y="473.3" font-size="14.57" textLength="153" lengthAdjust="spacingAndGlyphs" fill="#111">OVCAR-3 Cytotoxicity</text>
<line x1="836.6" y1="634.47" x2="1048.6" y2="634.47" stroke="#505050" stroke-width="1" stroke-dasharray="1 1.67"/>
<polyline points="874.15,635.87 875.08,635.87 876.01,635.87 876.95,635.87 877.88,635.87 878.81,635.87 879.74,635.87 880.67,635.87 881.61,635.87 882.54,635.87 883.47,635.87 884.4,635.87 885.33,635.87 886.26,635.87 887.2,635.87 888.13,635.87 889.06,635.87 889.99,635.87 890.92,635.87 891.86,635.87 892.79,635.87 893.72,635.87 894.65,635.87 895.58,635.87 896.51,635.87 897.45,635.87 898.38,635.87 899.31,635.87 900.24,635.87 901.17,635.87 902.11,635.87 903.04,635.87 903.97,635.87 904.9,635.87 905.83,635.87 906.77,635.87 907.7,635.87 908.63,635.87 909.56,635.87 910.49,635.87 911.42,635.87 912.36,635.87 913.29,635.87 914.22,635.86 915.15,635.86 916.08,635.86 917.02,635.86 917.95,635.86 918.88,635.86 919.81,635.86 920.74,635.86 921.68,635.86 922.61,635.86 923.54,635.86 924.47,635.85 925.4,635.85 926.34,635.85 927.27,635.85 928.2,635.84 929.13,635.84 930.06,635.84 930.99,635.83 931.93,635.83 932.86,635.82 933.79,635.81 934.72,635.81 935.65,635.8 936.59,635.79 937.52,635.78 938.45,635.76 939.38,635.75 940.31,635.73 941.25,635.71 942.18,635.69 943.11,635.67 944.04,635.64 944.97,635.61 945.9,635.57 946.84,635.53 947.77,635.48 948.7,635.43 949.63,635.37 950.56,635.3 951.5,635.22 952.43,635.14 953.36,635.03 954.29,634.92 955.22,634.79 956.15,634.64 957.09,634.47 958.02,634.28 958.95,634.06 959.88,633.82 960.81,633.54 961.75,633.22 962.68,632.86 963.61,632.45 964.54,631.99 965.47,631.47 966.41,630.89 967.34,630.23 968.27,629.48 969.2,628.64 970.13,627.7 971.06,626.64 972,625.46 972.93,624.14 973.86,622.67 974.79,621.05 975.72,619.24 976.66,617.25 977.59,615.07 978.52,612.68 979.45,610.08 980.38,607.26 981.32,604.23 982.25,600.97 983.18,597.51 984.11,593.85 985.04,590.01 985.97,586 986.91,581.86 987.84,577.61 988.77,573.29 989.7,568.92 990.63,564.55 991.57,560.22 992.5,555.96 993.43,551.8 994.36,547.77 995.29,543.9 996.23,540.21 997.16,536.72 998.09,533.43 999.02,530.36 999.95,527.51 1000.88,524.88 1001.82,522.46 1002.75,520.24 1003.68,518.22 1004.61,516.39 1005.54,514.74 1006.48,513.25 1007.41,511.91 1008.34,510.71 1009.27,509.63 1010.2,508.67 1011.14,507.82 1012.07,507.06 1013,506.38 1013.93,505.79 1014.86,505.26 1015.79,504.79 1016.73,504.37 1017.66,504.01 1018.59,503.68 1019.52,503.4 1020.45,503.15 1021.39,502.93 1022.32,502.73 1023.25,502.56" fill="none" stroke="#6cc5f2" stroke-width="1.35" stroke-linejoin="round" stroke-linecap="round"/>
<path d="M874.15 627.46V638.67M872.15 627.46H876.15M872.15 638.67H876.15" stroke="#6cc5f2" stroke-width="0.9" fill="none"/>
<path d="M874.15 630.47L876.55 634.87L871.75 634.87Z" fill="#6cc5f2"/>
<path d="M895.45 633.27L897.85 637.67L893.05 637.67Z" fill="#6cc5f2"/>
<path d="M916.75 632.36V639.37M914.75 632.36H918.75M914.75 639.37H918.75" stroke="#6cc5f2" stroke-width="0.9" fill="none"/>
<path d="M916.75 633.27L919.15 637.67L914.35 637.67Z" fill="#6cc5f2"/>
<path d="M938.05 634.47V637.27M936.05 634.47H940.05M936.05 637.27H940.05" stroke="#6cc5f2" stroke-width="0.9" fill="none"/>
<path d="M938.05 633.27L940.45 637.67L935.65 637.67Z" fill="#6cc5f2"/>
<path d="M959.35 629.56V642.18M957.35 629.56H961.35M957.35 642.18H961.35" stroke="#6cc5f2" stroke-width="0.9" fill="none"/>
<path d="M959.35 633.27L961.75 637.67L956.95 637.67Z" fill="#6cc5f2"/>
<path d="M980.65 600.83V612.04M978.65 600.83H982.65M978.65 612.04H982.65" stroke="#6cc5f2" stroke-width="0.9" fill="none"/>
<path d="M980.65 603.83L983.05 608.23L978.25 608.23Z" fill="#6cc5f2"/>
<path d="M1001.95 519.53V525.14M999.95 519.53H1003.95M999.95 525.14H1003.95" stroke="#6cc5f2" stroke-width="0.9" fill="none"/>
<path d="M1001.95 519.73L1004.35 524.13L999.55 524.13Z" fill="#6cc5f2"/>
<path d="M1023.25 500.11L1025.65 504.51L1020.85 504.51Z" fill="#6cc5f2"/>
<polyline points="874.15,639.09 875.08,639.09 876.01,639.09 876.95,639.09 877.88,639.09 878.81,639.09 879.74,639.09 880.67,639.09 881.61,639.09 882.54,639.09 883.47,639.09 884.4,639.09 885.33,639.09 886.26,639.09 887.2,639.09 888.13,639.09 889.06,639.09 889.99,639.09 890.92,639.09 891.86,639.09 892.79,639.09 893.72,639.09 894.65,639.09 895.58,639.09 896.51,639.09 897.45,639.09 898.38,639.08 899.31,639.08 900.24,639.08 901.17,639.08 902.11,639.08 903.04,639.08 903.97,639.08 904.9,639.07 905.83,639.07 906.77,639.07 907.7,639.07 908.63,639.06 909.56,639.06 910.49,639.06 911.42,639.05 912.36,639.05 913.29,639.04 914.22,639.04 915.15,639.03 916.08,639.02 917.02,639.01 917.95,639 918.88,638.99 919.81,638.98 920.74,638.96 921.68,638.95 922.61,638.93 923.54,638.91 924.47,638.89 925.4,638.86 926.34,638.83 927.27,638.8 928.2,638.77 929.13,638.72 930.06,638.68 930.99,638.63 931.93,638.57 932.86,638.5 933.79,638.43 934.72,638.35 935.65,638.26 936.59,638.15 937.52,638.04 938.45,637.9 939.38,637.76 940.31,637.59 941.25,637.41 942.18,637.2 943.11,636.97 944.04,636.7 944.97,636.41 945.9,636.08 946.84,635.72 947.77,635.31 948.7,634.85 949.63,634.33 950.56,633.76 951.5,633.12 952.43,632.41 953.36,631.62 954.29,630.74 955.22,629.77 956.15,628.69 957.09,627.5 958.02,626.19 958.95,624.74 959.88,623.15 960.81,621.42 961.75,619.52 962.68,617.45 963.61,615.22 964.54,612.8 965.47,610.2 966.41,607.42 967.34,604.45 968.27,601.31 969.2,597.99 970.13,594.51 971.06,590.89 972,587.13 972.93,583.26 973.86,579.31 974.79,575.29 975.72,571.24 976.66,567.19 977.59,563.15 978.52,559.16 979.45,555.25 980.38,551.43 981.32,547.74 982.25,544.18 983.18,540.78 984.11,537.54 985.04,534.49 985.97,531.61 986.91,528.91 987.84,526.4 988.77,524.08 989.7,521.92 990.63,519.94 991.57,518.12 992.5,516.46 993.43,514.94 994.36,513.56 995.29,512.31 996.23,511.17 997.16,510.14 998.09,509.22 999.02,508.38 999.95,507.63 1000.88,506.96 1001.82,506.35 1002.75,505.81 1003.68,505.33 1004.61,504.89 1005.54,504.5 1006.48,504.15 1007.41,503.84 1008.34,503.57 1009.27,503.32 1010.2,503.1 1011.14,502.9 1012.07,502.73 1013,502.57 1013.93,502.43 1014.86,502.31 1015.79,502.2 1016.73,502.1 1017.66,502.01 1018.59,501.93 1019.52,501.86 1020.45,501.8 1021.39,501.75 1022.32,501.7 1023.25,501.66" fill="none" stroke="#a56ef5" stroke-width="1.45" stroke-linejoin="round" stroke-linecap="round"/>
<path d="M874.15 633.77V642.18M872.15 633.77H876.15M872.15 642.18H876.15" stroke="#a56ef5" stroke-width="0.9" fill="none"/>
<rect x="872.05" y="635.87" width="4.2" height="4.2" fill="#a56ef5"/>
<path d="M895.45 638.67V644.28M893.45 638.67H897.45M893.45 644.28H897.45" stroke="#a56ef5" stroke-width="0.9" fill="none"/>
<rect x="893.35" y="639.38" width="4.2" height="4.2" fill="#a56ef5"/>
<path d="M916.75 635.17V644.98M914.75 635.17H918.75M914.75 644.98H918.75" stroke="#a56ef5" stroke-width="0.9" fill="none"/>
<rect x="914.65" y="637.97" width="4.2" height="4.2" fill="#a56ef5"/>
<path d="M938.05 633.06V641.48M936.05 633.06H940.05M936.05 641.48H940.05" stroke="#a56ef5" stroke-width="0.9" fill="none"/>
<rect x="935.95" y="635.17" width="4.2" height="4.2" fill="#a56ef5"/>
<path d="M959.35 623.25V631.66M957.35 623.25H961.35M957.35 631.66H961.35" stroke="#a56ef5" stroke-width="0.9" fill="none"/>
<rect x="957.25" y="625.36" width="4.2" height="4.2" fill="#a56ef5"/>
<path d="M980.65 545.46V552.47M978.65 545.46H982.65M978.65 552.47H982.65" stroke="#a56ef5" stroke-width="0.9" fill="none"/>
<rect x="978.55" y="546.87" width="4.2" height="4.2" fill="#a56ef5"/>
<rect x="999.85" y="502.71" width="4.2" height="4.2" fill="#a56ef5"/>
<rect x="1021.15" y="500.61" width="4.2" height="4.2" fill="#a56ef5"/>
<polyline points="874.15,636.93 875.08,636.92 876.01,636.91 876.95,636.89 877.88,636.87 878.81,636.85 879.74,636.83 880.67,636.8 881.61,636.76 882.54,636.72 883.47,636.67 884.4,636.61 885.33,636.55 886.26,636.46 887.2,636.37 888.13,636.25 889.06,636.12 889.99,635.96 890.92,635.77 891.86,635.55 892.79,635.29 893.72,634.98 894.65,634.61 895.58,634.18 896.51,633.68 897.45,633.08 898.38,632.39 899.31,631.57 900.24,630.62 901.17,629.51 902.11,628.23 903.04,626.73 903.97,625.01 904.9,623.03 905.83,620.77 906.77,618.2 907.7,615.29 908.63,612.04 909.56,608.42 910.49,604.43 911.42,600.08 912.36,595.38 913.29,590.38 914.22,585.11 915.15,579.64 916.08,574.03 917.02,568.37 917.95,562.73 918.88,557.19 919.81,551.83 920.74,546.7 921.68,541.87 922.61,537.37 923.54,533.23 924.47,529.45 925.4,526.04 926.34,522.99 927.27,520.27 928.2,517.88 929.13,515.78 930.06,513.96 930.99,512.37 931.93,511 932.86,509.81 933.79,508.8 934.72,507.93 935.65,507.18 936.59,506.55 937.52,506 938.45,505.54 939.38,505.15 940.31,504.82 941.25,504.54 942.18,504.3 943.11,504.1 944.04,503.93 944.97,503.78 945.9,503.66 946.84,503.56 947.77,503.47 948.7,503.39 949.63,503.33 950.56,503.28 951.5,503.23 952.43,503.2 953.36,503.16 954.29,503.14 955.22,503.11 956.15,503.09 957.09,503.08 958.02,503.06 958.95,503.05 959.88,503.04 960.81,503.04 961.75,503.03 962.68,503.02 963.61,503.02 964.54,503.01 965.47,503.01 966.41,503.01 967.34,503 968.27,503 969.2,503 970.13,503 971.06,503 972,503 972.93,503 973.86,502.99 974.79,502.99 975.72,502.99 976.66,502.99 977.59,502.99 978.52,502.99 979.45,502.99 980.38,502.99 981.32,502.99 982.25,502.99 983.18,502.99 984.11,502.99 985.04,502.99 985.97,502.99 986.91,502.99 987.84,502.99 988.77,502.99 989.7,502.99 990.63,502.99 991.57,502.99 992.5,502.99 993.43,502.99 994.36,502.99 995.29,502.99 996.23,502.99 997.16,502.99 998.09,502.99 999.02,502.99 999.95,502.99 1000.88,502.99 1001.82,502.99 1002.75,502.99 1003.68,502.99 1004.61,502.99 1005.54,502.99 1006.48,502.99 1007.41,502.99 1008.34,502.99 1009.27,502.99 1010.2,502.99 1011.14,502.99 1012.07,502.99 1013,502.99 1013.93,502.99 1014.86,502.99 1015.79,502.99 1016.73,502.99 1017.66,502.99 1018.59,502.99 1019.52,502.99 1020.45,502.99 1021.39,502.99 1022.32,502.99 1023.25,502.99" fill="none" stroke="#000000" stroke-width="1.75" stroke-linejoin="round" stroke-linecap="round"/>
<path d="M874.15 630.26V638.67M872.15 630.26H876.15M872.15 638.67H876.15" stroke="#000000" stroke-width="0.9" fill="none"/>
<circle cx="874.15" cy="634.47" r="2.05" fill="#000000"/>
<circle cx="895.45" cy="635.17" r="2.05" fill="#000000"/>
<path d="M916.75 565.78V579.8M914.75 565.78H918.75M914.75 579.8H918.75" stroke="#000000" stroke-width="0.9" fill="none"/>
<circle cx="916.75" cy="572.79" r="2.05" fill="#000000"/>
<circle cx="938.05" cy="506.92" r="2.05" fill="#000000"/>
<circle cx="959.35" cy="504.11" r="2.05" fill="#000000"/>
<circle cx="980.65" cy="502.01" r="2.05" fill="#000000"/>
<circle cx="1001.95" cy="501.31" r="2.05" fill="#000000"/>
<circle cx="1023.25" cy="501.31" r="2.05" fill="#000000"/>
<line x1="922" y1="549.8" x2="973.7" y2="549.8" stroke="#a87df0" stroke-width="1.8"/>
<path d="M976.7 549.8L971.2 547.2L971.2 552.4Z" fill="#a87df0"/>
<line x1="919.7" y1="561.6" x2="985.75" y2="561.6" stroke="#7cc4f0" stroke-width="1.5"/>
<path d="M988.75 561.6L983.25 559L983.25 564.2Z" fill="#7cc4f0"/>
<text x="940.8" y="543.3" font-size="14.8" font-weight="normal" textLength="26.5" lengthAdjust="spacingAndGlyphs" fill="#a87df0">45X</text>
<text x="932.5" y="581.6" font-size="14.8" font-weight="normal" textLength="34.8" lengthAdjust="spacingAndGlyphs" fill="#7cc4f0">110X</text>
<path d="M835.1 494.3V662.5H1048.1" fill="none" stroke="#262626" stroke-width="1.7" stroke-linecap="square"/>
<path d="M835.1 662.5h-3.6M835.1 634.47h-3.6M835.1 606.43h-3.6M835.1 578.4h-3.6M835.1 550.37h-3.6M835.1 522.33h-3.6M835.1 494.3h-3.6M835.1 662.5v3.6M870.6 662.5v3.6M906.1 662.5v3.6M941.6 662.5v3.6M977.1 662.5v3.6M1012.6 662.5v3.6M1048.1 662.5v3.6" stroke="#262626" stroke-width="1.3" fill="none"/>
<text class="k" x="830.7" y="666.1" font-size="10.0" text-anchor="end">-20</text>
<text class="k" x="830.7" y="638.07" font-size="10.0" text-anchor="end">0</text>
<text class="k" x="830.7" y="610.03" font-size="10.0" text-anchor="end">20</text>
<text class="k" x="830.7" y="582" font-size="10.0" text-anchor="end">40</text>
<text class="k" x="830.7" y="553.97" font-size="10.0" text-anchor="end">60</text>
<text class="k" x="830.7" y="525.93" font-size="10.0" text-anchor="end">80</text>
<text class="k" x="830.7" y="497.9" font-size="10.0" text-anchor="end">100</text>
<text class="k" x="833.9" y="676.9" font-size="10.0" text-anchor="middle">-5</text>
<text class="k" x="869.4" y="676.9" font-size="10.0" text-anchor="middle">-4</text>
<text class="k" x="904.9" y="676.9" font-size="10.0" text-anchor="middle">-3</text>
<text class="k" x="940.4" y="676.9" font-size="10.0" text-anchor="middle">-2</text>
<text class="k" x="975.9" y="676.9" font-size="10.0" text-anchor="middle">-1</text>
<text class="k" x="1012.6" y="676.9" font-size="10.0" text-anchor="middle">0</text>
<text class="k" x="1048.1" y="676.9" font-size="10.0" text-anchor="middle">1</text>
<text class="k" x="941.6" y="691.5" font-size="9.5" text-anchor="middle">log (conc. nM)</text>
<text class="k" transform="translate(810 576.9) rotate(-90)" font-size="9.3" text-anchor="middle">% Cytotoxicity</text>
</g>
<g transform="translate(635 190)">
<rect x="9.6" y="10.6" width="6.6" height="16.8" rx="1.4" fill="url(#gOr)" transform="rotate(-33.5 12.9 19)"/>
<rect x="16.7" y="5.7" width="6.6" height="16.8" rx="1.4" fill="url(#gOr)" transform="rotate(-33.5 20 14.1)"/>
<rect x="19.1" y="25.5" width="6.6" height="16.8" rx="1.4" fill="url(#gGr)" transform="rotate(-33.5 22.4 33.9)"/>
<rect x="26.1" y="21.2" width="6.6" height="16.8" rx="1.4" fill="url(#gGr)" transform="rotate(-33.5 29.4 29.6)"/>
<rect x="62.9" y="12.1" width="6.6" height="16.8" rx="1.4" fill="url(#gOr)" transform="rotate(34.5 66.2 20.5)"/>
<rect x="56" y="7.1" width="6.6" height="16.8" rx="1.4" fill="url(#gOr)" transform="rotate(34.5 59.3 15.5)"/>
<rect x="52.1" y="26.7" width="6.6" height="16.8" rx="1.4" fill="url(#gGr)" transform="rotate(34.5 55.4 35.1)"/>
<rect x="45.4" y="21.8" width="6.6" height="16.8" rx="1.4" fill="url(#gGr)" transform="rotate(34.5 48.7 30.2)"/>
<rect x="5" y="46.65" width="15.8" height="7.5" rx="1.4" fill="url(#gBl)" transform="rotate(-41.5 12.9 50.4)"/>
<rect x="11.4" y="53.05" width="15.8" height="7.5" rx="1.4" fill="url(#gBl)" transform="rotate(-41.5 19.3 56.8)"/>
<rect x="48.3" y="54.1" width="20.2" height="5.6" rx="1.2" fill="url(#gBl)" transform="rotate(47 58.4 56.9)"/>
<rect x="53.2" y="49.5" width="20.2" height="5.6" rx="1.2" fill="url(#gBl)" transform="rotate(47 63.3 52.3)"/>
<path d="M25.8 41.6Q27.2 46.8 23.3 50.3" fill="none" stroke="#808080" stroke-width="0.65"/>
<path d="M51.2 42.2Q50.6 46 52.2 48.8" fill="none" stroke="#808080" stroke-width="0.65"/>
<path d="M32.9 37.6L34.5 40V47M45.0 38.0L43.3 40V47" fill="none" stroke="#9a9a9a" stroke-width="0.7"/>
<path d="M34.8 41.3H43M34.8 43.4H43" stroke="#a5a5a5" stroke-width="0.8" fill="none"/>
<rect x="31.4" y="46.9" width="6.5" height="16.3" rx="1.2" fill="url(#gGr)"/>
<rect x="31.4" y="64.8" width="6.5" height="16.9" rx="1.2" fill="url(#gGr)"/>
<rect x="40.1" y="46.9" width="6.5" height="16.3" rx="1.2" fill="url(#gGr)"/>
<rect x="40.1" y="64.8" width="6.5" height="16.9" rx="1.2" fill="url(#gGr)"/>
</g>
<g transform="translate(630.7 475.9)">
<rect x="9.6" y="10.6" width="6.6" height="16.8" rx="1.4" fill="url(#gOr)" transform="rotate(-33.5 12.9 19)"/>
<rect x="16.7" y="5.7" width="6.6" height="16.8" rx="1.4" fill="url(#gOr)" transform="rotate(-33.5 20 14.1)"/>
<rect x="19.1" y="25.5" width="6.6" height="16.8" rx="1.4" fill="url(#gGr)" transform="rotate(-33.5 22.4 33.9)"/>
<rect x="26.1" y="21.2" width="6.6" height="16.8" rx="1.4" fill="url(#gGr)" transform="rotate(-33.5 29.4 29.6)"/>
<rect x="62.9" y="12.1" width="6.6" height="16.8" rx="1.4" fill="url(#gOr)" transform="rotate(34.5 66.2 20.5)"/>
<rect x="56" y="7.1" width="6.6" height="16.8" rx="1.4" fill="url(#gOr)" transform="rotate(34.5 59.3 15.5)"/>
<rect x="52.1" y="26.7" width="6.6" height="16.8" rx="1.4" fill="url(#gGr)" transform="rotate(34.5 55.4 35.1)"/>
<rect x="45.4" y="21.8" width="6.6" height="16.8" rx="1.4" fill="url(#gGr)" transform="rotate(34.5 48.7 30.2)"/>
<rect x="5" y="46.65" width="15.8" height="7.5" rx="1.4" fill="url(#gBl)" transform="rotate(-41.5 12.9 50.4)"/>
<rect x="11.4" y="53.05" width="15.8" height="7.5" rx="1.4" fill="url(#gBl)" transform="rotate(-41.5 19.3 56.8)"/>
<rect x="48.3" y="54.1" width="20.2" height="5.6" rx="1.2" fill="url(#gBl)" transform="rotate(47 58.4 56.9)"/>
<rect x="53.2" y="49.5" width="20.2" height="5.6" rx="1.2" fill="url(#gBl)" transform="rotate(47 63.3 52.3)"/>
<path d="M25.8 41.6Q27.2 46.8 23.3 50.3" fill="none" stroke="#808080" stroke-width="0.65"/>
<path d="M51.2 42.2Q50.6 46 52.2 48.8" fill="none" stroke="#808080" stroke-width="0.65"/>
<path d="M32.9 37.6L34.5 40V47M45.0 38.0L43.3 40V47" fill="none" stroke="#9a9a9a" stroke-width="0.7"/>
<path d="M34.8 41.3H43M34.8 43.4H43" stroke="#a5a5a5" stroke-width="0.8" fill="none"/>
<rect x="31.4" y="46.9" width="6.5" height="16.3" rx="1.2" fill="url(#gGr)"/>
<rect x="31.4" y="64.8" width="6.5" height="16.9" rx="1.2" fill="url(#gGr)"/>
<rect x="40.1" y="46.9" width="6.5" height="16.3" rx="1.2" fill="url(#gGr)"/>
<rect x="40.1" y="64.8" width="6.5" height="16.9" rx="1.2" fill="url(#gGr)"/>
</g>
<g transform="translate(1067.9 208.5)">
<rect x="0" y="0" width="6.8" height="17" rx="1.3" fill="url(#gOr2)"/>
<rect x="0" y="19.4" width="6.8" height="16" rx="1.3" fill="url(#gGr2)"/>
<rect x="0" y="37.5" width="6.8" height="16.8" rx="1.3" fill="url(#gBl2)"/>
<rect x="-8.8" y="37.5" width="6.6" height="16.8" rx="1.3" fill="url(#gBl2)"/>
<path d="M-2.4 46.2H0.4" stroke="#8fc0e0" stroke-width="0.7"/>
</g>
<g transform="translate(1067 501.4)">
<rect x="0" y="0" width="6.8" height="17" rx="1.3" fill="url(#gOr2)"/>
<rect x="0" y="19.4" width="6.8" height="16" rx="1.3" fill="url(#gGr2)"/>
<rect x="0" y="37.5" width="6.8" height="16.8" rx="1.3" fill="url(#gBl2)"/>
<rect x="-8.8" y="37.5" width="6.6" height="16.8" rx="1.3" fill="url(#gBl2)"/>
<path d="M-2.4 46.2H0.4" stroke="#8fc0e0" stroke-width="0.7"/>
</g>
<g font-family="'Liberation Sans', Arial, sans-serif" font-weight="bold" font-size="15" fill="#0a0a0a">
<line x1="640.5" y1="293.2" x2="655.5" y2="293.2" stroke="#000000" stroke-width="1.9"/>
<circle cx="648" cy="293.2" r="2.3" fill="#000000"/>
<text x="660" y="296.8">CT-95</text>
<line x1="640.5" y1="309" x2="655.5" y2="309" stroke="#a56ef5" stroke-width="1.9"/>
<rect x="645.5" y="306.7" width="5" height="4.6" fill="#a56ef5"/>
<text x="660" y="314.7">+10nM MSLN</text>
<line x1="640.5" y1="325.9" x2="655.5" y2="325.9" stroke="#6cc5f2" stroke-width="1.9"/>
<path d="M648 323.3L650.5 327.7L645.5 327.7Z" fill="#6cc5f2"/>
<text x="660" y="332.3">+30nM MSLN</text>
</g>
<g font-family="'Liberation Sans', Arial, sans-serif" font-weight="bold" font-size="15" fill="#0a0a0a">
<line x1="1057.6" y1="290" x2="1072.4" y2="290" stroke="#000000" stroke-width="1.9"/>
<circle cx="1065" cy="290" r="2.3" fill="#000000"/>
<text x="1076.1" y="290.8">HPN-536</text>
<line x1="1057.6" y1="305.7" x2="1072.4" y2="305.7" stroke="#a56ef5" stroke-width="1.9"/>
<rect x="1062.5" y="303.4" width="5" height="4.6" fill="#a56ef5"/>
<text x="1076.1" y="308.9">+10nM MSLN</text>
<line x1="1057.6" y1="322.4" x2="1072.4" y2="322.4" stroke="#6cc5f2" stroke-width="1.9"/>
<path d="M1065 319.8L1067.5 324.2L1062.5 324.2Z" fill="#6cc5f2"/>
<text x="1076.1" y="326.4">+30nM MSLN</text>
</g>
<g font-family="'Liberation Sans', Arial, sans-serif" font-weight="bold" font-size="15" fill="#0a0a0a">
<line x1="640.7" y1="578.6" x2="655.2" y2="578.6" stroke="#000000" stroke-width="1.9"/>
<circle cx="647.95" cy="578.6" r="2.3" fill="#000000"/>
<text x="657.7" y="582.3">CT-95</text>
<line x1="640.7" y1="594.7" x2="655.2" y2="594.7" stroke="#a56ef5" stroke-width="1.9"/>
<rect x="645.45" y="592.4" width="5" height="4.6" fill="#a56ef5"/>
<text x="657.7" y="600.2">+10nM MSLN</text>
<line x1="640.7" y1="611.7" x2="655.2" y2="611.7" stroke="#6cc5f2" stroke-width="1.9"/>
<path d="M647.95 609.1L650.45 613.5L645.45 613.5Z" fill="#6cc5f2"/>
<text x="657.7" y="617.9">+30nM MSLN</text>
</g>
<g font-family="'Liberation Sans', Arial, sans-serif" font-weight="bold" font-size="15" fill="#0a0a0a">
<line x1="1057.8" y1="575.4" x2="1072.1" y2="575.4" stroke="#000000" stroke-width="1.9"/>
<circle cx="1064.95" cy="575.4" r="2.3" fill="#000000"/>
<text x="1074.5" y="578.1">HPN-536</text>
<line x1="1057.8" y1="591.1" x2="1072.1" y2="591.1" stroke="#a56ef5" stroke-width="1.9"/>
<rect x="1062.45" y="588.8" width="5" height="4.6" fill="#a56ef5"/>
<text x="1074.5" y="596.2">+10nM MSLN</text>
<line x1="1057.8" y1="607.9" x2="1072.1" y2="607.9" stroke="#6cc5f2" stroke-width="1.9"/>
<path d="M1064.95 605.3L1067.45 609.7L1062.45 609.7Z" fill="#6cc5f2"/>
<text x="1074.5" y="614.1">+30nM MSLN</text>
</g>
</svg>

<div class="t" id="pg" style="left:43.6px;top:731.9px;font-size:13.6px;font-weight:bold;color:#1f3864;">26</div>
<div class="t" id="ctx" style="left:70px;top:733.2px;font-size:11.4px;color:#595959;white-space:pre;">Context Therapeutics Inc. -  September 2024</div>
<div id="foot">HPN-536 clones are not derived from the original manufacturer and were produced for this research study based on the published sequence of their antibody variable chains; thus, the clones used in this study are biosimilars and may not be identical to the antibodies formulated for clinical development.</div>
</body>
</html>
